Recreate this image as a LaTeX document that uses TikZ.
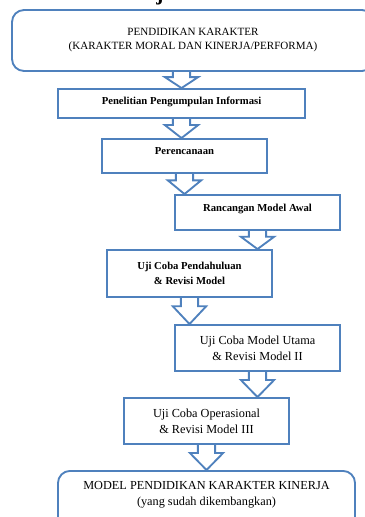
\documentclass[tikz,border=0pt]{standalone}
\usepackage{fontspec}
\setmainfont{Liberation Serif}
\usepackage{xcolor}
\usetikzlibrary{calc,positioning}
\definecolor{boxblue}{RGB}{79,129,189}
\tikzset{
	stepbox/.style={draw=boxblue,line width=1.4pt,align=center,inner sep=0pt,minimum width=123.75pt},
	endbox/.style={stepbox,rounded corners=9pt},
	blockarr/.style={draw=boxblue,line width=1.4pt,line join=miter},
	boldtxt/.style={font=\bfseries\fontsize{8}{11.25}\selectfont},
	plaintxt/.style={font=\fontsize{9.2}{12}\selectfont},
	toptxt/.style={font=\fontsize{8.3}{10.5}\selectfont}
}
\newcommand{\flowarrow}[2]{%
	\draw[blockarr] let \p1=#1, \p2=#2, \n1={0.68*(\y1-\y2)} in
		(\x1-6.5pt,\y1) -- (\x1-6.5pt,\y2+\n1) -- (\x1-12.5pt,\y2+\n1) -- (\x1,\y2)
		-- (\x1+12.5pt,\y2+\n1) -- (\x1+6.5pt,\y2+\n1) -- (\x1+6.5pt,\y1);}
\begin{document}
\begin{tikzpicture}[x=0.75pt,y=-0.75pt]
	\useasboundingbox (0,0) rectangle (364,517);
	\node[font=\bfseries\fontsize{16}{16}\selectfont,anchor=base] (frag) at (160,0.5) {j};
	\node[endbox,toptxt,minimum width=271.5pt,minimum height=45.75pt] (top) at (193,40.5)
		{PENDIDIKAN KARAKTER\\(KARAKTER MORAL DAN KINERJA/PERFORMA)};
	\node[stepbox,boldtxt,minimum width=185.25pt,minimum height=21.75pt,text depth=4.5pt] (info) at (181.5,103.5)
		{Penelitian Pengumpulan Informasi};
	\node[stepbox,boldtxt,minimum height=25.5pt,text depth=7pt] (plan) at (184.5,156) {Perencanaan};
	\node[stepbox,boldtxt,minimum height=26.25pt,text depth=7pt] (draft) at (257.5,212.5) {Rancangan Model Awal};
	\node[stepbox,boldtxt,minimum height=35.25pt] (prelim) at (189.5,273.5)
		{Uji Coba Pendahuluan\\\& Revisi Model};
	\node[stepbox,plaintxt,minimum height=34.5pt] (main) at (257.5,348)
		{Uji Coba Model Utama\\\& Revisi Model II};
	\node[stepbox,plaintxt,minimum height=34.5pt] (oper) at (206.5,421)
		{Uji Coba Operasional\\\& Revisi Model III};
	\node[endbox,minimum width=222.75pt,minimum height=56pt,anchor=north] (result) at (206.5,470) {};
	\node[plaintxt,align=center,below=5pt of result.north] (resulttxt)
		{MODEL PENDIDIKAN KARAKTER KINERJA\\(yang sudah dikembangkan)};
	\flowarrow{(info.north |- top.south)}{(info.north)}
	\flowarrow{(info.south)}{(info.south |- plan.north)}
	\flowarrow{(plan.south)}{(plan.south |- draft.north)}
	\flowarrow{(draft.south)}{(draft.south |- prelim.north)}
	\flowarrow{(prelim.south)}{(prelim.south |- main.north)}
	\flowarrow{(main.south)}{(main.south |- oper.north)}
	\flowarrow{(oper.south)}{(oper.south |- result.north)}
\end{tikzpicture}
\end{document}
